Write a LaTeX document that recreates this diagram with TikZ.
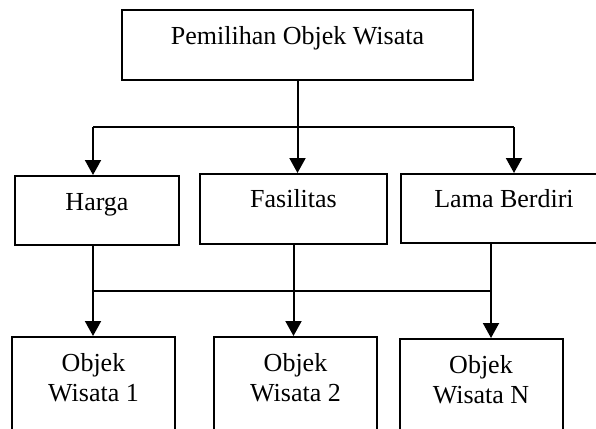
\documentclass[tikz,border=0pt]{standalone}
\usepackage{fontspec}
\setmainfont{Liberation Serif}
\usetikzlibrary{arrows.meta, positioning}

\tikzset{
    kotak/.style={draw, line width=2pt, rectangle, inner sep=0pt, anchor=base,
        font=\fontsize{26}{30}\selectfont},
    kotakbawah/.style={kotak, align=center, minimum width=163pt,
        text height=64pt, text depth=44pt}
}

\begin{document}
\begin{tikzpicture}[x=1pt, y=-1pt, line width=2pt, >={Triangle[length=15pt, width=16pt]}]
\useasboundingbox (0,0) rectangle (596,428);
% kriteria atas
\node[kotak, minimum width=351pt, text height=35pt, text depth=35pt] (pilih) at (297.5,45) {Pemilihan Objek Wisata};
\node[kotak, minimum width=164pt, text height=34pt, text depth=35pt] (harga) at (97,210) {Harga};
\node[kotak, minimum width=187pt, text height=33pt, text depth=37pt] (fasilitas) at (293.5,207) {Fasilitas};
\node[kotak, minimum width=206pt, text height=33pt, text depth=36pt] (lama) at (504,207) {Lama Berdiri};
% alternatif
\node[kotakbawah] (objek1) at (93.5,401) {Objek\\Wisata 1};
\node[kotakbawah] (objek2) at (295.5,401) {Objek\\Wisata 2};
\node[kotakbawah] (objekN) at (481,403) {Objek\\Wisata N};

\coordinate (cabangL) at (93,127);
\coordinate (cabangR) at (514,127);
\coordinate (gabungL) at (93,291);
\coordinate (gabungR) at (491,291);

\draw[->] (pilih.south) -- (pilih.south |- fasilitas.north);
\draw (cabangL) -- (cabangR);
\draw[->] (cabangL) -- (cabangL |- harga.north);
\draw[->] (cabangR) -- (cabangR |- lama.north);

\draw (gabungL) -- (gabungR);
\draw[->] (gabungL |- harga.south) -- (gabungL |- objek1.north);
\draw[->] (fasilitas.south) -- (fasilitas.south |- objek2.north);
\draw[->] (gabungR |- lama.south) -- (gabungR |- objekN.north);
\end{tikzpicture}
\end{document}
